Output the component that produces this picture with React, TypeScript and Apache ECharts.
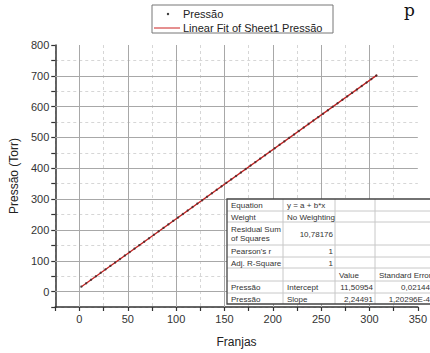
import React, { useEffect, useRef } from "react";
import * as echarts from "echarts";

// Measured points (Franjas vs Pressão)
const franjas = [2, 7, 12, 17, 22, 27, 32, 37, 42, 47, 52, 57, 62, 67, 72, 77, 82, 87, 92, 97, 102, 107, 112, 117, 122, 127, 132, 137, 142, 147, 152, 157, 162, 167, 172, 177, 182, 187, 192, 197, 202, 207, 212, 217, 222, 227, 232, 237, 242, 247, 252, 257, 262, 267, 272, 277, 282, 287, 292, 297, 302, 307];
const pressao = [16.0, 27.2, 38.4, 49.7, 60.9, 72.1, 83.3, 94.6, 105.8, 117.0, 128.2, 139.5, 150.7, 161.9, 173.1, 184.4, 195.6, 206.8, 218.0, 229.3, 240.5, 251.7, 262.9, 274.2, 285.4, 296.6, 307.8, 319.1, 330.3, 341.5, 352.7, 364.0, 375.2, 386.4, 397.6, 408.9, 420.1, 431.3, 442.5, 453.8, 465.0, 476.2, 487.4, 498.7, 509.9, 521.1, 532.3, 543.6, 554.8, 566.0, 577.2, 588.5, 599.7, 610.9, 622.1, 633.4, 644.6, 655.8, 667.0, 678.3, 689.5, 700.7];

// Linear fit end points
const fitX = [2, 308];
const fitY = [16.0, 703.0];

// Major grid lines
const xMajor = [0, 50, 100, 150, 200, 250, 300];
const yMajor = [0, 100, 200, 300, 400, 500, 600, 700];

// Legend
const legendNames = ["Pressão", "Linear Fit of Sheet1 Pressão"];

// Fit table
const tableRows: string[][] = [
  ["Equation", "y = a + b*x", "", ""],
  ["Weight", "No Weighting", "", ""],
  ["Residual Sum\nof Squares", "10,78176", "", ""],
  ["Pearson's r", "1", "", ""],
  ["Adj. R-Square", "1", "", ""],
  ["", "", "Value", "Standard Error"],
  ["Pressão", "Intercept", "11,50954", "0,02144"],
  ["Pressão", "Slope", "2,24491", "1,20296E-4"],
];

const FONT = "'Liberation Sans', Arial, sans-serif";
const ZT = 100;

function buildTable() {
  const colX = [227, 283, 335, 375, 432];
  const rowH = [12, 11, 23, 12, 11, 13, 12, 11];
  const top = 199;
  const rowY: number[] = [top];
  rowH.forEach((h) => rowY.push(rowY[rowY.length - 1] + h));
  const bottom = rowY[rowY.length - 1];
  const children: any[] = [];
  children.push({
    type: "rect",
    z: ZT,
    shape: { x: colX[0], y: top, width: colX[4] - colX[0], height: bottom - top },
    style: { fill: "#fff", stroke: "none" },
  });
  for (let i = 1; i < rowY.length - 1; i++) {
    children.push({
      type: "line",
      z: ZT + 1,
      shape: { x1: colX[0], y1: rowY[i], x2: colX[4], y2: rowY[i] },
      style: { stroke: "#c8c8c8", lineWidth: 1 },
    });
  }
  for (let j = 1; j < colX.length - 1; j++) {
    children.push({
      type: "line",
      z: ZT + 1,
      shape: { x1: colX[j], y1: top, x2: colX[j], y2: bottom },
      style: { stroke: "#c8c8c8", lineWidth: 1 },
    });
  }
  children.push({
    type: "rect",
    z: ZT + 2,
    shape: { x: colX[0], y: top, width: colX[4] - colX[0], height: bottom - top },
    style: { fill: "none", stroke: "#444", lineWidth: 1.3 },
  });
  const numeric = (s: string) => /^[0-9,.E\-]+$/.test(s);
  tableRows.forEach((row, i) => {
    row.forEach((cell, j) => {
      if (!cell) return;
      const right = j > 0 && numeric(cell);
      const x = right ? colX[j + 1] - 2 : colX[j] + 4;
      children.push({
        type: "text",
        z: ZT + 3,
        x,
        y: (rowY[i] + rowY[i + 1]) / 2 + 0.5,
        style: {
          text: cell,
          font: `8px ${FONT}`,
          fill: "#333",
          align: right ? "right" : "left",
          verticalAlign: "middle",
          lineHeight: 9,
        },
      });
    });
  });
  return { type: "group", z: ZT, children };
}

function buildLegend() {
  return {
    type: "group",
    z: ZT,
    children: [
      {
        type: "rect",
        z: ZT,
        shape: { x: 152, y: 5, width: 181, height: 28 },
        style: { fill: "#fff", stroke: "#777", lineWidth: 1 },
      },
      {
        type: "circle",
        z: ZT + 1,
        shape: { cx: 168, cy: 14, r: 1.2 },
        style: { fill: "#333" },
      },
      {
        type: "line",
        z: ZT + 1,
        shape: { x1: 154, y1: 28, x2: 180, y2: 28 },
        style: { stroke: "#cc2020", lineWidth: 1 },
      },
      {
        type: "text",
        z: ZT + 1,
        x: 183,
        y: 14,
        style: { text: legendNames[0], font: `11px ${FONT}`, fill: "#222", verticalAlign: "middle" },
      },
      {
        type: "text",
        z: ZT + 1,
        x: 183,
        y: 27.5,
        style: { text: legendNames[1], font: `11px ${FONT}`, fill: "#222", verticalAlign: "middle" },
      },
    ],
  };
}

export default function App() {
  const ref = useRef<HTMLDivElement>(null);
  useEffect(() => {
    if (!ref.current) return;
    const chart = echarts.init(ref.current, null, { renderer: "svg" });
    const points = franjas.map((x, i) => [x, pressao[i]]);
    const fit = fitX.map((x, i) => [x, fitY[i]]);
    chart.setOption({
      animation: false,
      backgroundColor: "#fff",
      grid: { left: 55, right: 7, top: 45, bottom: 40 },
      xAxis: {
        type: "value",
        min: -25,
        max: 350,
        interval: 25,
        name: "Franjas",
        nameLocation: "middle",
        nameGap: 29,
        nameTextStyle: { fontFamily: FONT, fontSize: 12, color: "#222" },
        axisLine: { show: true, onZero: false, lineStyle: { color: "#333", width: 1.5 } },
        axisTick: { show: true, inside: false, length: 4, lineStyle: { color: "#333", width: 1.2 } },
        axisLabel: {
          fontFamily: FONT,
          fontSize: 11,
          color: "#333",
          margin: 6,
          formatter: (v: number) => (v >= 0 && v % 50 === 0 ? String(v) : ""),
        },
        splitLine: {
          show: true,
          lineStyle: { color: ["#d6d6d6", "rgba(0,0,0,0)"], type: [3, 3], width: 1 },
        },
      },
      yAxis: {
        type: "value",
        min: -50,
        max: 800,
        interval: 50,
        name: "Pressão (Torr)",
        nameLocation: "middle",
        nameGap: 34,
        nameTextStyle: { fontFamily: FONT, fontSize: 12, color: "#222" },
        axisLine: { show: true, onZero: false, lineStyle: { color: "#333", width: 1.5 } },
        axisTick: { show: true, inside: false, length: 4, lineStyle: { color: "#333", width: 1.2 } },
        axisLabel: {
          fontFamily: FONT,
          fontSize: 11,
          color: "#333",
          margin: 6,
          formatter: (v: number) => (v >= 0 && v % 100 === 0 ? String(v) : ""),
        },
        splitLine: {
          show: true,
          lineStyle: { color: ["#d6d6d6", "rgba(0,0,0,0)"], type: [3, 3], width: 1 },
        },
      },
      series: [
        {
          name: legendNames[1],
          type: "line",
          data: fit,
          showSymbol: false,
          symbol: "none",
          z: 3,
          lineStyle: { color: "#c42020", width: 1.3 },
          markLine: {
            silent: true,
            z: 1,
            symbol: ["none", "none"],
            label: { show: false },
            lineStyle: { color: "#a8a8a8", type: "solid", width: 1 },
            data: [
              ...xMajor.map((v) => ({ xAxis: v })),
              ...yMajor.map((v) => ({ yAxis: v })),
            ],
          },
        },
        {
          name: legendNames[0],
          type: "scatter",
          data: points,
          symbol: "circle",
          symbolSize: 2.4,
          z: 4,
          itemStyle: { color: "#3a2a2a" },
        },
      ],
      graphic: [
        buildLegend(),
        buildTable(),
        {
          type: "text",
          z: ZT,
          x: 404,
          y: 1,
          style: { text: "p", font: "17px 'DejaVu Serif', 'Liberation Serif', serif", fill: "#111" },
        },
      ],
    });
    return () => chart.dispose();
  }, []);
  return (
    <div
      ref={ref}
      style={{ position: "fixed", left: 0, top: 0, width: 430, height: 353 }}
    />
  );
}
